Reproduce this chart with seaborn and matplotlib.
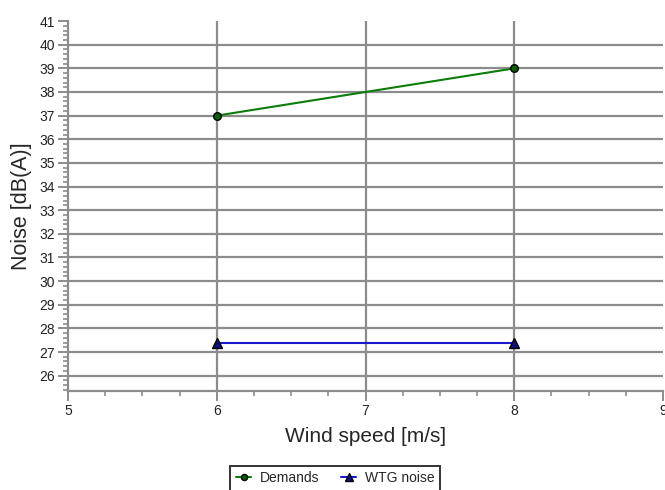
import matplotlib
matplotlib.use("Agg")

import matplotlib.pyplot as plt
import pandas as pd
import seaborn as sns
from matplotlib.ticker import MultipleLocator

# values
wind_speed = [6, 8]
demands = [37.0, 39.0]
wtg_noise = [27.4, 27.4]

y_ticks = list(range(26, 42))
x_ticks = [5, 6, 7, 8, 9]

GRID = "#8c8c8c"

sns.set_style("white")
plt.rcParams["font.family"] = ["Liberation Sans", "DejaVu Sans"]

df = pd.DataFrame({
    "wind": wind_speed * 2,
    "noise": demands + wtg_noise,
    "series": ["Demands"] * len(demands) + ["WTG noise"] * len(wtg_noise),
})

fig = plt.figure(figsize=(6.65, 4.9), dpi=100)
ax = fig.add_axes([0.1023, 0.202, 0.8947, 0.755])

sns.lineplot(data=df[df.series == "Demands"], x="wind", y="noise", ax=ax,
             color="#0a7d0a", lw=1.5, marker="o", markersize=5.5,
             markerfacecolor="#0b5e0b", markeredgecolor="black",
             markeredgewidth=1.0, label="Demands", zorder=3)
sns.lineplot(data=df[df.series == "WTG noise"], x="wind", y="noise", ax=ax,
             color="#1a1acc", lw=1.5, marker="^", markersize=6.5,
             markerfacecolor="#10107a", markeredgecolor="black",
             markeredgewidth=1.0, label="WTG noise", zorder=3)

ax.set_xlim(5, 9)
ax.set_ylim(25.35, 41)
ax.set_xticks(x_ticks)
ax.set_yticks(y_ticks)
ax.xaxis.set_minor_locator(MultipleLocator(0.25))
ax.yaxis.set_minor_locator(MultipleLocator(0.2))

# grid only on interior ticks (none on the 41 / 9 edges)
for y in y_ticks[:-1]:
    ax.axhline(y, color=GRID, lw=1.6, zorder=1)
for x in x_ticks[1:-1]:
    ax.axvline(x, color=GRID, lw=1.6, zorder=1)

for side in ("top", "right"):
    ax.spines[side].set_visible(False)
for side in ("left", "bottom"):
    ax.spines[side].set_color(GRID)
    ax.spines[side].set_linewidth(1.6)

ax.tick_params(which="both", bottom=True, left=True, direction="out",
               color=GRID)
ax.tick_params(which="major", length=7.5, width=1.4, labelsize=10,
               labelcolor="#222222", pad=2)
ax.tick_params(which="minor", length=3.5, width=1.2)

ax.set_xlabel("Wind speed [m/s]", fontsize=15, labelpad=6)
ax.set_ylabel("Noise [dB(A)]", fontsize=15.5, labelpad=5)

ax.legend(loc="upper center", bbox_to_anchor=(0.504, 0.050),
          bbox_transform=fig.transFigure, ncol=2, fontsize=10,
          frameon=True, fancybox=False, edgecolor="black",
          handlelength=1.1, handletextpad=0.6, columnspacing=1.6,
          borderpad=0.4, borderaxespad=0, markerscale=0.8)
ax.get_legend().get_frame().set_linewidth(1.4)

fig.savefig("out.png", dpi=100)
